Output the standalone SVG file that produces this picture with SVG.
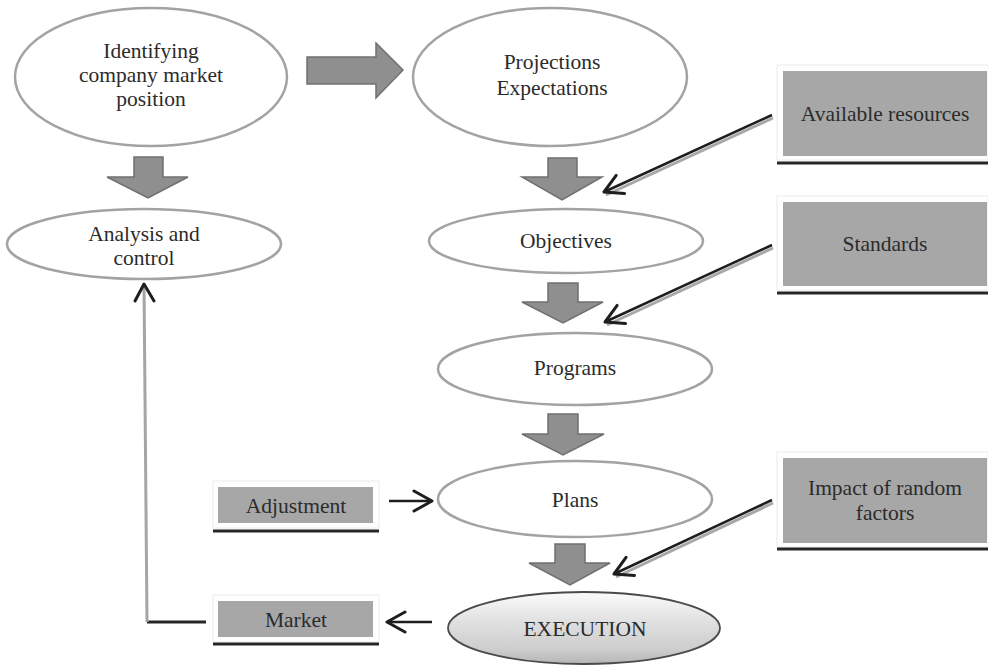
<svg xmlns="http://www.w3.org/2000/svg" width="988" height="669" viewBox="0 0 988 669">
<style>
.ell{fill:#ffffff;stroke:#a3a3a3;stroke-width:2.5}
text{font-family:'Liberation Serif','Times New Roman',serif;font-size:21.5px;fill:#2b2b2b;text-anchor:middle}
.blk{fill:#8f8f8f;stroke:#707070;stroke-width:1.5;stroke-linejoin:miter}
.frame{fill:#ffffff;stroke:#ececec;stroke-width:1}
.box{fill:#a7a7a7}
.ul{stroke:#262626;stroke-width:3}
.shade{stroke:#a8a8a8;stroke-width:3;fill:none}
.dark{stroke:#1e1e1e;stroke-width:2.5;fill:none}
</style>
<defs>
<marker id="chev" viewBox="0 0 24 24" refX="21" refY="12" markerWidth="24" markerHeight="24" markerUnits="userSpaceOnUse" orient="auto">
<path d="M3,2 L21,12 L3,22" fill="none" stroke="#1e1e1e" stroke-width="3" stroke-linecap="round" stroke-linejoin="round"/>
</marker>
<linearGradient id="exg" x1="0" y1="0" x2="0" y2="1">
<stop offset="0" stop-color="#fbfbfb"/>
<stop offset="0.45" stop-color="#dedede"/>
<stop offset="0.8" stop-color="#cdcdcd"/>
<stop offset="1" stop-color="#b5b5b5"/>
</linearGradient>
</defs>

<g id="identifying">
<ellipse class="ell" cx="151" cy="77" rx="136" ry="69"/>
<text x="151" y="58">Identifying</text>
<text x="151" y="82">company market</text>
<text x="151" y="106">position</text>
</g>

<g id="projections">
<ellipse class="ell" cx="550" cy="77" rx="137" ry="69"/>
<text x="552" y="69">Projections</text>
<text x="552" y="95">Expectations</text>
</g>

<g id="analysis">
<ellipse class="ell" cx="144" cy="244" rx="137" ry="35"/>
<text x="144" y="241">Analysis and</text>
<text x="144" y="265">control</text>
</g>

<g id="objectives">
<ellipse class="ell" cx="566" cy="241" rx="137" ry="32"/>
<text x="566" y="248">Objectives</text>
</g>

<g id="programs">
<ellipse class="ell" cx="575" cy="369" rx="137" ry="36"/>
<text x="575" y="375">Programs</text>
</g>

<g id="plans">
<ellipse class="ell" cx="575" cy="499" rx="137" ry="38"/>
<text x="575" y="507">Plans</text>
</g>

<g id="execution">
<ellipse cx="584" cy="628" rx="136" ry="36" fill="url(#exg)" stroke="#4a4a4a" stroke-width="1.8"/>
<text x="585" y="636">EXECUTION</text>
</g>

<g id="available-resources">
<rect class="frame" x="777" y="65" width="211" height="95"/>
<rect class="box" x="783" y="71" width="204" height="85"/>
<line class="ul" x1="777" y1="163" x2="988" y2="163"/>
<text x="885" y="121">Available resources</text>
</g>

<g id="standards">
<rect class="frame" x="777" y="196" width="211" height="94"/>
<rect class="box" x="783" y="202" width="204" height="84"/>
<line class="ul" x1="777" y1="293" x2="988" y2="293"/>
<text x="885" y="251">Standards</text>
</g>

<g id="impact">
<rect class="frame" x="777" y="452" width="211" height="95"/>
<rect class="box" x="783" y="458" width="204" height="85"/>
<line class="ul" x1="777" y1="549" x2="988" y2="549"/>
<text x="885" y="495">Impact of random</text>
<text x="885" y="520">factors</text>
</g>

<g id="adjustment">
<rect class="frame" x="213" y="481" width="166" height="47"/>
<rect class="box" x="218" y="487" width="155" height="36"/>
<line class="ul" x1="213" y1="531" x2="379" y2="531"/>
<text x="296" y="513">Adjustment</text>
</g>

<g id="market">
<rect class="frame" x="213" y="595" width="166" height="47"/>
<rect class="box" x="218" y="601" width="155" height="36"/>
<line class="ul" x1="213" y1="644" x2="379" y2="644"/>
<text x="296" y="627">Market</text>
</g>

<g id="connectors">
<polygon class="blk" points="307,57 376,57 376,43 403,70 376,98 376,84 307,84"/>
<polygon class="blk" points="134,157 163,157 163,177 188,177 148,198 107,177 134,177"/>
<polygon class="blk" points="548,158 577,158 577,177 602,177 562,200 522,177 548,177"/>
<polygon class="blk" points="548,283 578,283 578,302 603,302 563,323 522,302 548,302"/>
<polygon class="blk" points="548,414 578,414 578,434 604,434 563,455 522,434 548,434"/>
<polygon class="blk" points="555,544 585,544 585,563 610,563 570,585 529,563 555,563"/>

<line class="shade" x1="773" y1="118" x2="606" y2="195"/>
<line class="dark" x1="772" y1="115" x2="604" y2="192" marker-end="url(#chev)"/>
<line class="shade" x1="773" y1="248" x2="607" y2="325"/>
<line class="dark" x1="772" y1="245" x2="605" y2="322" marker-end="url(#chev)"/>
<line class="shade" x1="773" y1="503" x2="616" y2="577"/>
<line class="dark" x1="772" y1="500" x2="614" y2="574" marker-end="url(#chev)"/>

<line class="dark" x1="389" y1="501" x2="432" y2="501" stroke-width="3" marker-end="url(#chev)"/>
<line class="dark" x1="432" y1="622" x2="387" y2="622" stroke-width="3" marker-end="url(#chev)"/>

<line x1="206" y1="622" x2="147" y2="622" stroke="#262626" stroke-width="3"/>
<line x1="147" y1="622" x2="144" y2="284" stroke="#a5a5a5" stroke-width="3"/>
<path d="M135,301 L144,284 L154,301" fill="none" stroke="#1e1e1e" stroke-width="3" stroke-linecap="round" stroke-linejoin="round"/>
</g>
</svg>
